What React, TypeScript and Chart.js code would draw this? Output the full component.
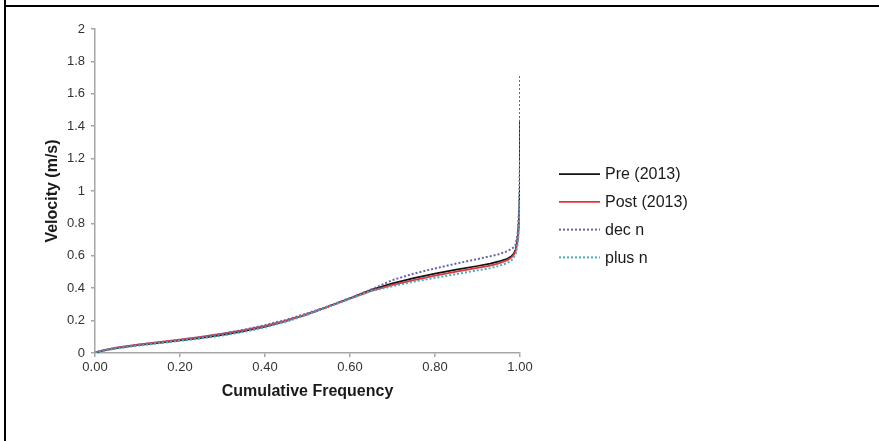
import React, { useEffect, useRef } from "react";
import { Chart, registerables } from "chart.js";

Chart.register(...registerables);

// Cumulative frequency (x) shared by all series
const freq = [0, 0.01, 0.05, 0.1, 0.15, 0.2, 0.25, 0.3, 0.35, 0.4, 0.45, 0.5, 0.55, 0.6, 0.65, 0.7, 0.75, 0.8, 0.85, 0.9, 0.93, 0.95, 0.97, 0.98, 0.985, 0.99, 0.995, 0.998, 1.0, 1.0];

// Velocity (m/s) per series
const preVel = [0, 0.01, 0.03, 0.048, 0.063, 0.078, 0.094, 0.112, 0.135, 0.163, 0.198, 0.24, 0.288, 0.338, 0.39, 0.43, 0.462, 0.49, 0.515, 0.537, 0.552, 0.565, 0.582, 0.598, 0.612, 0.64, 0.72, 0.85, 1.05, 1.44];
const postVel = [0, 0.012, 0.033, 0.051, 0.067, 0.083, 0.1, 0.119, 0.141, 0.167, 0.2, 0.24, 0.287, 0.335, 0.383, 0.42, 0.45, 0.477, 0.502, 0.525, 0.54, 0.553, 0.572, 0.59, 0.605, 0.63, 0.7, 0.8, 0.88, 0.93];
const decVel = [0, 0.011, 0.032, 0.05, 0.066, 0.082, 0.099, 0.119, 0.143, 0.172, 0.205, 0.245, 0.29, 0.34, 0.392, 0.45, 0.49, 0.522, 0.552, 0.58, 0.597, 0.61, 0.628, 0.643, 0.652, 0.67, 0.75, 0.9, 1.2, 1.72];
const plusVel = [0, 0.009, 0.028, 0.045, 0.06, 0.075, 0.09, 0.108, 0.13, 0.158, 0.193, 0.237, 0.286, 0.334, 0.383, 0.412, 0.44, 0.464, 0.487, 0.51, 0.524, 0.537, 0.555, 0.572, 0.588, 0.612, 0.68, 0.8, 1.0, 1.2];

const seriesLabels = ["Pre (2013)", "Post (2013)", "dec n", "plus n"];
const xTickValues = [0, 0.2, 0.4, 0.6, 0.8, 1];
const xTitle = "Cumulative Frequency";
const yTitle = "Velocity (m/s)";

const FONT = '"Liberation Sans", Arial, sans-serif';

function pts(ys: number[]) {
  return freq.map((x, i) => ({ x, y: ys[i] }));
}

export default function App() {
  const ref = useRef<HTMLCanvasElement>(null);

  useEffect(() => {
    if (!ref.current) return;

    const framePlugin = {
      id: "frame",
      beforeDraw(chart: any) {
        const ctx = chart.ctx;
        ctx.save();
        ctx.fillStyle = "#ffffff";
        ctx.fillRect(0, 0, chart.width, chart.height);
        ctx.restore();
      },
      afterDraw(chart: any) {
        const ctx = chart.ctx;
        ctx.save();
        ctx.fillStyle = "#000000";
        ctx.fillRect(4, 0, 2, chart.height);
        ctx.fillRect(4, 5, chart.width - 4, 2);
        ctx.restore();
      },
    };

    const legendPlugin = {
      id: "sideLegend",
      afterDraw(chart: any) {
        const ctx = chart.ctx;
        const x0 = 559, x1 = 600, tx = 605, y0 = 174, dy = 27.8;
        chart.data.datasets.forEach((ds: any, i: number) => {
          const y = y0 + i * dy;
          ctx.save();
          ctx.strokeStyle = ds.borderColor;
          ctx.lineWidth = ds.borderWidth;
          ctx.setLineDash(ds.borderDash || []);
          ctx.beginPath();
          ctx.moveTo(x0, y);
          ctx.lineTo(x1, y);
          ctx.stroke();
          ctx.setLineDash([]);
          ctx.fillStyle = "#1a1a1a";
          ctx.font = `16px ${FONT}`;
          ctx.textBaseline = "middle";
          ctx.textAlign = "left";
          ctx.fillText(ds.label, tx, y + 1);
          ctx.restore();
        });
      },
    };

    const chart = new Chart(ref.current, {
      type: "scatter",
      data: {
        datasets: [
          { label: seriesLabels[0], data: pts(preVel), borderColor: "#111111", borderWidth: 1.75, order: 4 },
          { label: seriesLabels[1], data: pts(postVel), borderColor: "#e2343c", borderWidth: 1.75, order: 3 },
          { label: seriesLabels[2], data: pts(decVel), borderColor: "#6464a8", borderWidth: 2, borderDash: [2, 2], order: 2 },
          { label: seriesLabels[3], data: pts(plusVel), borderColor: "#45adc0", borderWidth: 2, borderDash: [2, 2], order: 1 },
        ].map((d) => ({ ...d, showLine: true, pointRadius: 0, pointHoverRadius: 0, tension: 0, fill: false })),
      },
      options: {
        responsive: false,
        animation: false,
        events: [],
        layout: { padding: { top: 29, right: 359, left: 0, bottom: 0 } },
        plugins: { legend: { display: false }, tooltip: { enabled: false } },
        scales: {
          x: {
            type: "linear",
            min: 0,
            max: 1,
            afterFit(scale: any) { scale.height = 88; },
            afterBuildTicks(scale: any) {
              scale.ticks = xTickValues.map((v) => ({ value: v }));
            },
            ticks: {
              callback: (v: any) => Number(v).toFixed(2),
              color: "#333333",
              font: { family: FONT, size: 13 },
              padding: 3,
              maxRotation: 0,
              autoSkip: false,
            },
            grid: { drawOnChartArea: false, drawTicks: true, tickLength: 4, color: "#a6a6a6", lineWidth: 1.5 },
            border: { color: "#a6a6a6", width: 1.5 },
            title: {
              display: true,
              text: xTitle,
              color: "#1a1a1a",
              font: { family: FONT, size: 16, weight: "bold" },
              padding: { top: 0, bottom: 40 },
            },
          },
          y: {
            type: "linear",
            min: 0,
            max: 2,
            afterFit(scale: any) { scale.width = 95; },
            ticks: {
              stepSize: 0.2,
              callback: (v: any) => String(Number(Number(v).toFixed(1))),
              color: "#333333",
              font: { family: FONT, size: 13 },
              padding: 6,
            },
            grid: { drawOnChartArea: false, drawTicks: true, tickLength: 4, color: "#a6a6a6", lineWidth: 1.5 },
            border: { color: "#a6a6a6", width: 1.5 },
            title: {
              display: true,
              text: yTitle,
              color: "#1a1a1a",
              font: { family: FONT, size: 16, weight: "bold" },
              padding: { top: 43, bottom: 0 },
            },
          },
        },
      },
      plugins: [framePlugin, legendPlugin],
    } as any);

    return () => chart.destroy();
  }, []);

  return (
    <div style={{ position: "absolute", left: 0, top: 0, width: 879, height: 441 }}>
      <canvas ref={ref} width={879} height={441} style={{ display: "block" }} />
    </div>
  );
}
